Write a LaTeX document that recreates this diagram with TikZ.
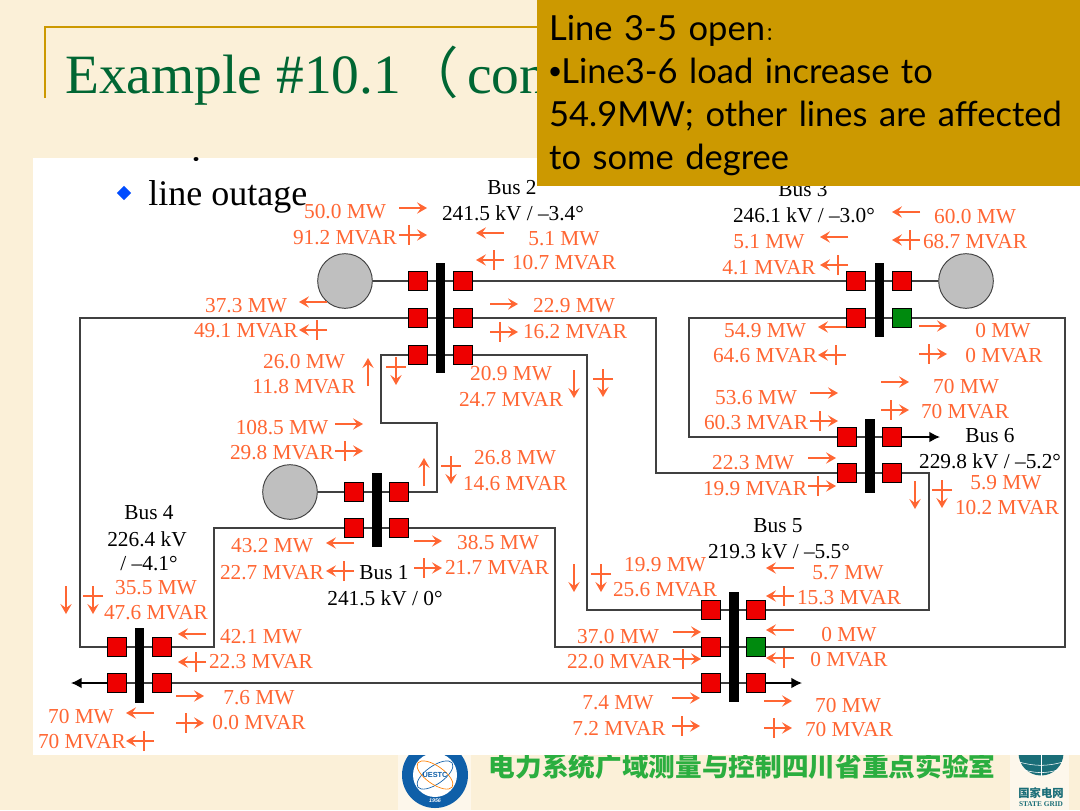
\documentclass[tikz,border=0pt]{standalone}
\usepackage{fontspec}
\setmainfont{Liberation Serif}
\setsansfont{Liberation Sans}
\newfontfamily\cjk{Noto Sans CJK SC}
\newfontfamily\notefont{Lato}
\usepackage{tikz}
\usetikzlibrary{arrows.meta,backgrounds,shapes.geometric}
\usepackage{xcolor}
\definecolor{paper}{HTML}{FBF0D8}
\definecolor{gold}{HTML}{CC9900}
\definecolor{flowink}{HTML}{FF6633}
\definecolor{wireink}{HTML}{404040}
\definecolor{breaker}{HTML}{EE0000}
\definecolor{closed}{HTML}{008A0E}
\definecolor{titleink}{HTML}{006633}
\definecolor{labink}{HTML}{2BAE3F}
\definecolor{ringblue}{HTML}{0F5FA8}
\definecolor{gridteal}{HTML}{1A6E78}
\tikzset{
  >=Latex,
  every node/.style={font=\fontsize{16}{18}\selectfont,inner sep=0pt,text=black},
  flowtext/.style={text=flowink,yshift=-0.6pt},
  brk/.style={draw=black,fill=breaker,minimum size=14.5pt,line width=0.6pt},
  brkon/.style={brk,fill=closed},
  busbar/.style={fill=black,minimum width=7pt},
  gener/.style={circle,draw=wireink,fill=black!25,minimum size=41pt,line width=0.7pt},
  wire/.style={draw=wireink,line width=1.05pt},
  load/.style={wire,draw=black,-{Latex[length=8pt,width=8pt]}},
  flow/.style={draw=flowink,line width=1pt,-{Stealth[length=7.5pt,width=8.5pt,inset=3pt]}},
  parrow/.pic={\draw[flow] (-14,0) -- (14,0);},
  qarrow/.pic={\draw[flow] (-14,0) -- (14,0); \draw[draw=flowink,line width=1pt] (-4,-10) -- (-4,10);},
}
\begin{document}
\begin{tikzpicture}[x=0.75pt,y=-0.75pt]
  \useasboundingbox (0,0) rectangle (1080,810);

  % buses
  \node[busbar,minimum height=82.5pt] (bus2) at (440.5,318) {};
  \node[busbar,minimum height=55.5pt] (bus3) at (879.5,300) {};
  \node[busbar,minimum height=55.5pt] (bus6) at (870,456) {};
  \node[busbar,minimum height=55.5pt] (bus1) at (377,510) {};
  \node[busbar,minimum height=56pt] (bus4) at (139.5,665.5) {};
  \node[busbar,minimum height=82.5pt] (bus5) at (734,647) {};

  % breakers
  \node[brk] (b2a) at (418,281) {}; \node[brk] (b2b) at (463,281) {};
  \node[brk] (b2c) at (418,318) {}; \node[brk] (b2d) at (463,318) {};
  \node[brk] (b2e) at (418,355) {}; \node[brk] (b2f) at (463,355) {};
  \node[brk] (b3a) at (856,281) {}; \node[brk] (b3b) at (902,281) {};
  \node[brk] (b3c) at (856,318) {}; \node[brkon] (b3d) at (902,318) {};
  \node[brk] (b6a) at (847,437) {}; \node[brk] (b6b) at (892,437) {};
  \node[brk] (b6c) at (847,473) {}; \node[brk] (b6d) at (892,473) {};
  \node[brk] (b1a) at (354,492) {}; \node[brk] (b1b) at (399,492) {};
  \node[brk] (b1c) at (354,528) {}; \node[brk] (b1d) at (399,528) {};
  \node[brk] (b4a) at (117,647) {}; \node[brk] (b4b) at (162,647) {};
  \node[brk] (b4c) at (117,683) {}; \node[brk] (b4d) at (162,683) {};
  \node[brk] (b5a) at (711,610) {}; \node[brk] (b5b) at (756,610) {};
  \node[brk] (b5c) at (711,647) {}; \node[brkon] (b5d) at (756,647) {};
  \node[brk] (b5e) at (711,683) {}; \node[brk] (b5f) at (756,683) {};

  % generators
  \node[gener] (gen2) at (345,281) {};
  \node[gener] (gen3) at (966,281) {};
  \node[gener] (gen1) at (290,492) {};

  \coordinate (end6) at (940,437);
  \coordinate (end4) at (71,683);
  \coordinate (end5) at (802,683);

  \begin{scope}[on background layer]
    \fill[paper] (0,0) rectangle (1080,810);
    \fill[white,opacity=0.5] (398,755) rectangle (471,810);
    \fill[white,opacity=0.5] (1010,755) rectangle (1069,810);
    % school mark
    \fill[ringblue] (435,775) circle (33);
    \fill[white] (435,775) circle (22);
    \draw[ringblue,line width=0.5pt,rotate around={35:(435,775)}] (435,775) ellipse (21 and 9);
    \draw[orange,line width=0.5pt,rotate around={-35:(435,775)}] (435,775) ellipse (21 and 9);
    \node[font=\sffamily\bfseries\fontsize{5.5}{6}\selectfont,text=ringblue] (school) at (435,775) {UESTC};
    \node[font=\sffamily\itshape\bfseries\fontsize{4}{5}\selectfont,text=white] (year) at (435,801) {1956};
    % grid mark
    \fill[gridteal] (1041,753) circle (22.5);
    \draw[white,line width=0.4pt] (1019,762) to[bend right=15] (1063,762);
    \draw[white,line width=0.4pt] (1024,770) to[bend right=15] (1058,770);
    \draw[white,line width=0.4pt] (1041,755) -- (1041,776);
    \node[font=\cjk\bfseries\fontsize{20}{24}\selectfont,text=labink] (lab) at (742,766) {电力系统广域测量与控制四川省重点实验室};
    \fill[white] (33,158) rectangle (1080,755);
    \fill[black] (196,159) ellipse (2.5 and 2);

    \draw[wire] (gen2) -- (gen3);
    \draw[wire] (b2c) -- (b2d); \draw[wire] (b2e) -- (b2f);
    \draw[wire] (b3c) -- (b3d); \draw[wire] (b6a) -- (b6b); \draw[wire] (b6c) -- (b6d);
    \draw[wire] (gen1) -- (b1b); \draw[wire] (b1c) -- (b1d);
    \draw[wire] (b4a) -- (b4b); \draw[wire] (b5a) -- (b5b); \draw[wire] (b5c) -- (b5d);
    \draw[wire] (b4d) -- (b5e); \draw[wire] (b4c) -- (b4d); \draw[wire] (b5e) -- (b5f);
    \draw[wire] (b2c) -| (80,647) -- (b4a);
    \draw[wire] (b2d) -| (656,473) -- (b6c);
    \draw[wire] (b2e) -| (381,423) -| (437,492) -- (b1b);
    \draw[wire] (b2f) -| (587,610) -- (b5a);
    \draw[wire] (b3c) -| (689,437) -- (b6a);
    \draw[wire] (b3d) -| (1065,647) -- (b5d);
    \draw[wire] (b6d) -| (929,610) -- (b5b);
    \draw[wire] (b1c) -| (214,647) -- (b4b);
    \draw[wire] (b1d) -| (555,647) -- (b5c);
    \draw[load] (b6b) -- (end6);
    \draw[load] (b4c) -- (end4);
    \draw[load] (b5f) -- (end5);
  \end{scope}

  % bus captions
  \node (cap2) at (512,188) {Bus 2};
  \node (volt2) at (513,213) {241.5 kV / –3.4°};
  \node (cap3) at (803,190) {Bus 3};
  \node (volt3) at (804,215) {246.1 kV / –3.0°};
  \node (cap6) at (990,436) {Bus 6};
  \node (volt6) at (990,461) {229.8 kV / –5.2°};
  \node (cap5) at (778,526) {Bus 5};
  \node (volt5) at (779,551) {219.3 kV / –5.5°};
  \node (cap1) at (384,573) {Bus 1};
  \node (volt1) at (385,598) {241.5 kV / 0°};
  \node (cap4) at (149,513) {Bus 4};
  \node (volt4) at (147,539) {226.4 kV};
  \node (ang4) at (149,564) {/ –4.1°};

  % flows round bus 2
  \node[flowtext] (p2a) at (345,211) {50.0 MW}; \node[flowtext] (q2a) at (345,237) {91.2 MVAR};
  \node[flowtext] (p2b) at (564,238) {5.1 MW}; \node[flowtext] (q2b) at (564,262) {10.7 MVAR};
  \node[flowtext] (p2c) at (246,305) {37.3 MW}; \node[flowtext] (q2c) at (246,330) {49.1 MVAR};
  \node[flowtext] (p2d) at (574,305) {22.9 MW}; \node[flowtext] (q2d) at (575,331) {16.2 MVAR};
  \node[flowtext] (p2e) at (304,361) {26.0 MW}; \node[flowtext] (q2e) at (304,386) {11.8 MVAR};
  \node[flowtext] (p2f) at (511,373) {20.9 MW}; \node[flowtext] (q2f) at (511,399) {24.7 MVAR};
  \pic at (413,208) {parrow}; \pic at (413,235) {qarrow};
  \pic[rotate=180] at (490,233) {parrow}; \pic[rotate=180] at (490,260) {qarrow};
  \pic[rotate=180] at (313,302) {parrow}; \pic[rotate=180] at (313,330) {qarrow};
  \pic at (504,304) {parrow}; \pic at (504,332) {qarrow};
  \pic[rotate=90] at (368,372) {parrow}; \pic[rotate=-90] at (396,371) {qarrow};
  \pic[rotate=-90] at (574,384) {parrow}; \pic[rotate=-90] at (603,383) {qarrow};

  % flows round bus 1
  \node[flowtext] (p1a) at (282,427) {108.5 MW}; \node[flowtext] (q1a) at (282,452) {29.8 MVAR};
  \node[flowtext] (p1b) at (515,457) {26.8 MW}; \node[flowtext] (q1b) at (515,483) {14.6 MVAR};
  \node[flowtext] (p1c) at (272,545) {43.2 MW}; \node[flowtext] (q1c) at (272,572) {22.7 MVAR};
  \node[flowtext] (p1d) at (498,542) {38.5 MW}; \node[flowtext] (q1d) at (497,567) {21.7 MVAR};
  \pic at (349,424) {parrow}; \pic at (349,451) {qarrow};
  \pic[rotate=90] at (424,472) {parrow}; \pic[rotate=-90] at (451,470) {qarrow};
  \pic[rotate=180] at (340,543) {parrow}; \pic[rotate=180] at (340,571) {qarrow};
  \pic at (428,541) {parrow}; \pic at (428,568) {qarrow};

  % flows round bus 4
  \node[flowtext] (p4a) at (156,587) {35.5 MW}; \node[flowtext] (q4a) at (156,612) {47.6 MVAR};
  \node[flowtext] (p4b) at (261,636) {42.1 MW}; \node[flowtext] (q4b) at (261,661) {22.3 MVAR};
  \node[flowtext] (p4c) at (259,697) {7.6 MW}; \node[flowtext] (q4c) at (259,722) {0.0 MVAR};
  \node[flowtext] (p4d) at (81,716) {70 MW}; \node[flowtext] (q4d) at (82,741) {70 MVAR};
  \pic[rotate=-90] at (66,600) {parrow}; \pic[rotate=-90] at (93,600) {qarrow};
  \pic[rotate=180] at (192,634) {parrow}; \pic[rotate=180] at (192,662) {qarrow};
  \pic at (190,696) {parrow}; \pic at (190,723) {qarrow};
  \pic[rotate=180] at (140,713) {parrow}; \pic[rotate=180] at (140,741) {qarrow};

  % flows round bus 3
  \node[flowtext] (p3a) at (975,216) {60.0 MW}; \node[flowtext] (q3a) at (975,241) {68.7 MVAR};
  \node[flowtext] (p3b) at (769,241) {5.1 MW}; \node[flowtext] (q3b) at (769,267) {4.1 MVAR};
  \node[flowtext] (p3c) at (765,330) {54.9 MW}; \node[flowtext] (q3c) at (765,355) {64.6 MVAR};
  \node[flowtext] (p3d) at (1003,330) {0 MW}; \node[flowtext] (q3d) at (1004,355) {0 MVAR};
  \pic[rotate=180] at (906,212) {parrow}; \pic[rotate=180] at (906,240) {qarrow};
  \pic[rotate=180] at (834,237) {parrow}; \pic[rotate=180] at (834,265) {qarrow};
  \pic[rotate=180] at (832,327) {parrow}; \pic[rotate=180] at (832,355) {qarrow};
  \pic at (933,326) {parrow}; \pic at (933,354) {qarrow};

  % flows round bus 6
  \node[flowtext] (p6a) at (966,386) {70 MW}; \node[flowtext] (q6a) at (965,411) {70 MVAR};
  \node[flowtext] (p6b) at (756,397) {53.6 MW}; \node[flowtext] (q6b) at (756,422) {60.3 MVAR};
  \node[flowtext] (p6c) at (753,462) {22.3 MW}; \node[flowtext] (q6c) at (755,488) {19.9 MVAR};
  \node[flowtext] (p6d) at (1006,482) {5.9 MW}; \node[flowtext] (q6d) at (1007,507) {10.2 MVAR};
  \pic at (895,382) {parrow}; \pic at (895,410) {qarrow};
  \pic at (824,393) {parrow}; \pic at (824,421) {qarrow};
  \pic at (822,458) {parrow}; \pic at (822,486) {qarrow};
  \pic[rotate=-90] at (915,495) {parrow}; \pic[rotate=-90] at (942,494) {qarrow};

  % flows round bus 5
  \node[flowtext] (p5a) at (665,564) {19.9 MW}; \node[flowtext] (q5a) at (665,589) {25.6 MVAR};
  \node[flowtext] (p5b) at (848,572) {5.7 MW}; \node[flowtext] (q5b) at (849,597) {15.3 MVAR};
  \node[flowtext] (p5c) at (618,636) {37.0 MW}; \node[flowtext] (q5c) at (619,661) {22.0 MVAR};
  \node[flowtext] (p5d) at (849,634) {0 MW}; \node[flowtext] (q5d) at (849,659) {0 MVAR};
  \node[flowtext] (p5e) at (618,702) {7.4 MW}; \node[flowtext] (q5e) at (619,728) {7.2 MVAR};
  \node[flowtext] (p5f) at (848,705) {70 MW}; \node[flowtext] (q5f) at (849,729) {70 MVAR};
  \pic[rotate=-90] at (574,578) {parrow}; \pic[rotate=-90] at (601,578) {qarrow};
  \pic[rotate=180] at (780,568) {parrow}; \pic[rotate=180] at (780,596) {qarrow};
  \pic at (687,632) {parrow}; \pic at (687,659) {qarrow};
  \pic[rotate=180] at (780,630) {parrow}; \pic[rotate=180] at (780,658) {qarrow};
  \pic at (686,698) {parrow}; \pic at (686,726) {qarrow};
  \pic at (778,701) {parrow}; \pic at (778,728) {qarrow};

  % slide furniture
  \node[diamond,fill=blue!70!cyan,minimum size=11pt] (mark) at (124,193) {};
  \node[anchor=base west,font=\fontsize{27}{30}\selectfont] (topic) at (148,205) {line outage};
  \node[font=\cjk\bfseries\fontsize{8.5}{10}\selectfont,text=gridteal] (gridcn) at (1041,793) {国家电网};
  \node[font=\bfseries\fontsize{5.5}{7}\selectfont,text=gridteal] (griden) at (1041,804) {STATE GRID};

  \draw[gold,line width=1.2pt] (45,98) -- (45,27) -- (537,27);
  \node[anchor=base west,font=\fontsize{41.6}{44}\selectfont,text=titleink] (title) at (65,93) {Example \#10.1\hspace{1.5pt}{\cjk（}\hspace{6.5pt}con};
  \fill[gold] (537,0) rectangle (1080,8);
  \node[fill=gold,minimum width=407.25pt,minimum height=135pt,font=\notefont\fontsize{25.9}{32.25}\selectfont,align=left,text width=389pt] (note) at (808.5,96)
    {Line 3-5 open{\cjk\fontsize{14}{14}\selectfont ：}\\{\sffamily •}Line3-6 load increase to\\54.9MW; other lines are affected\\to some degree};
\end{tikzpicture}
\end{document}
